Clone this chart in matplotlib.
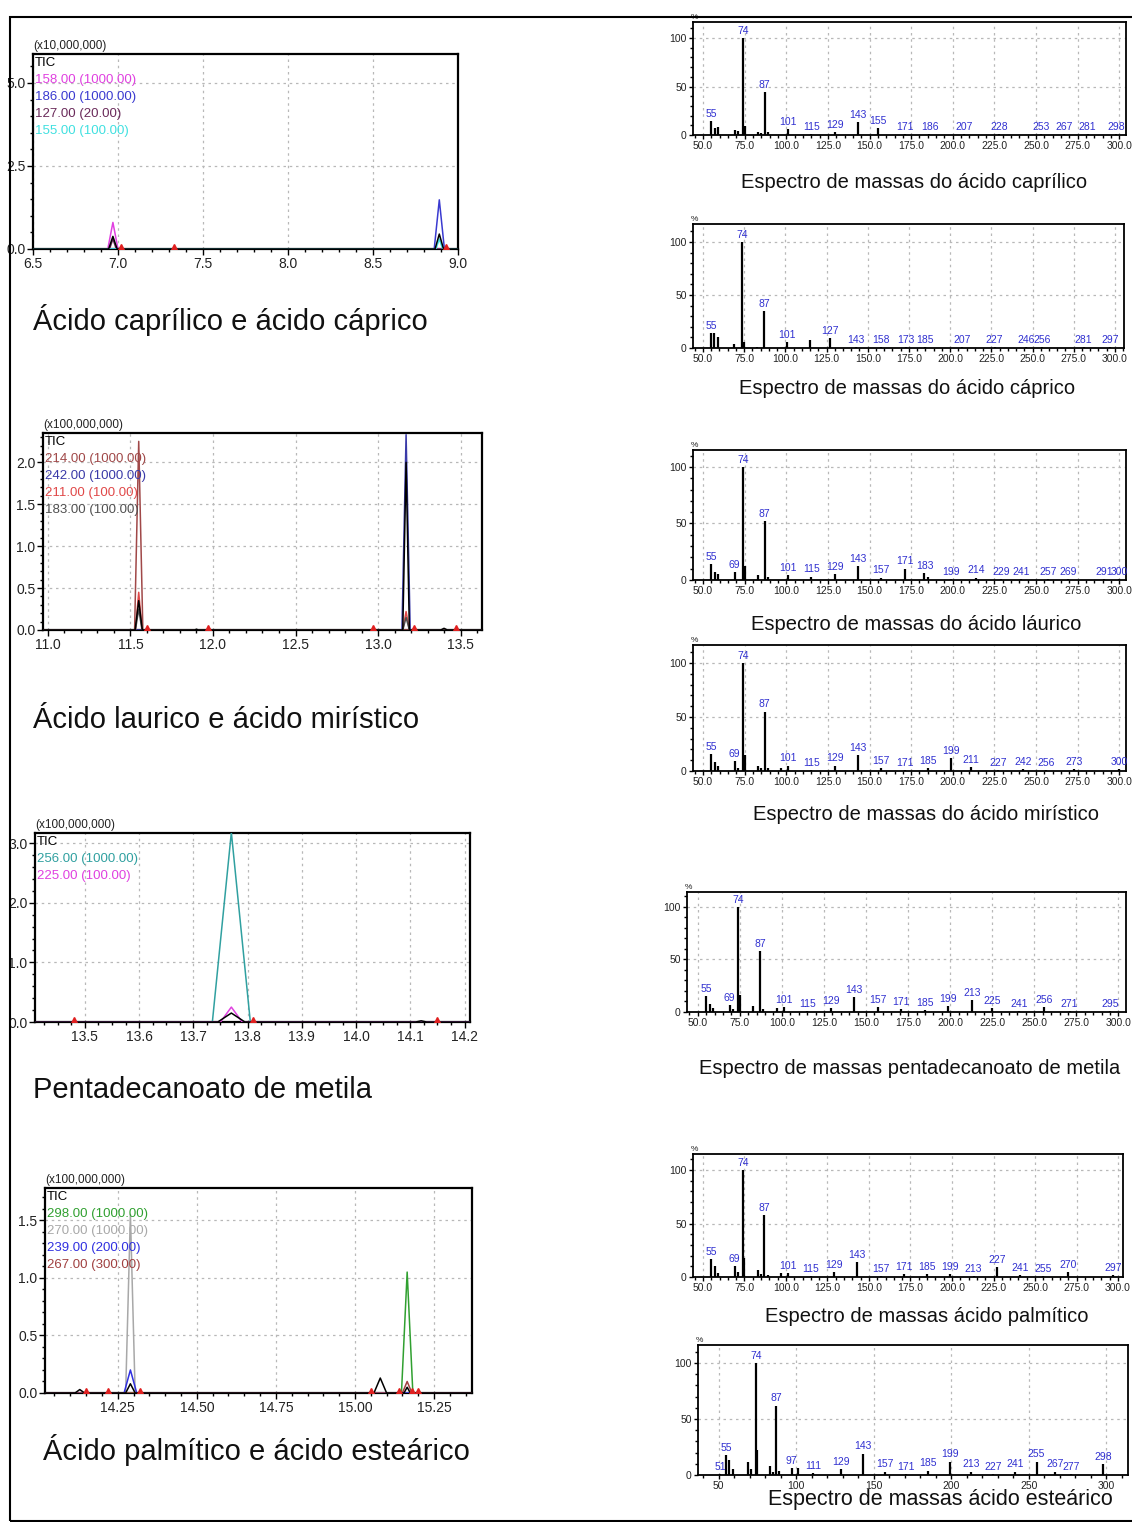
import matplotlib
matplotlib.use("Agg")
import matplotlib.pyplot as plt
from matplotlib.patches import Rectangle
from matplotlib.ticker import MultipleLocator, FormatStrFormatter

W, H = 1132, 1522
SANS = ['Liberation Sans', 'DejaVu Sans']
NARROW = ['Liberation Sans Narrow', 'Liberation Sans', 'DejaVu Sans']
plt.rcParams['font.family'] = SANS

# ---------------- chromatogram data ----------------
c1_ions = ['TIC', '158.00 (1000.00)', '186.00 (1000.00)', '127.00 (20.00)', '155.00 (100.00)']
c1_colors = ['black', '#e040e0', '#3a3ad0', '#6a2a5a', '#40e0e0']
c1_peak_ion = [1, 3, 0, 2, 4, 0]
c1_peak_rt = [6.97, 6.97, 6.97, 8.89, 8.89, 8.89]
c1_peak_h = [0.80, 0.30, 0.38, 1.48, 0.30, 0.45]
c1_peak_w = [0.03, 0.02, 0.025, 0.03, 0.02, 0.025]
c1_marks = [7.02, 7.33, 8.93]

c2_ions = ['TIC', '214.00 (1000.00)', '242.00 (1000.00)', '211.00 (100.00)', '183.00 (100.00)']
c2_colors = ['black', '#a04848', '#3a3aa8', '#e04848', '#505050']
c2_peak_ion = [1, 3, 4, 0, 2, 3, 4, 0, 0, 0]
c2_peak_rt = [11.55, 11.55, 11.55, 11.55, 13.17, 13.17, 13.17, 13.17, 13.40, 11.90]
c2_peak_h = [2.25, 0.45, 0.25, 0.35, 2.33, 0.22, 0.15, 2.00, 0.02, 0.01]
c2_peak_w = [0.025, 0.02, 0.02, 0.022, 0.025, 0.02, 0.02, 0.02, 0.02, 0.01]
c2_marks = [11.60, 11.97, 12.97, 13.22, 13.47]

c3_ions = ['TIC', '256.00 (1000.00)', '225.00 (100.00)']
c3_colors = ['black', '#30a0a0', '#e040e0']
c3_peak_ion = [1, 2, 0, 0]
c3_peak_rt = [13.77, 13.77, 13.77, 14.12]
c3_peak_h = [3.18, 0.25, 0.15, 0.02]
c3_peak_w = [0.035, 0.02, 0.025, 0.01]
c3_marks = [13.48, 13.81, 14.15]

c4_ions = ['TIC', '298.00 (1000.00)', '270.00 (1000.00)', '239.00 (200.00)', '267.00 (300.00)']
c4_colors = ['black', '#30a030', '#a8a8a8', '#3030e0', '#a04040']
c4_peak_ion = [1, 2, 3, 4, 0, 0, 0, 0]
c4_peak_rt = [15.165, 14.29, 14.29, 15.165, 14.13, 14.29, 15.08, 15.165]
c4_peak_h = [1.05, 1.55, 0.20, 0.10, 0.03, 0.08, 0.13, 0.05]
c4_peak_w = [0.018, 0.015, 0.02, 0.015, 0.015, 0.015, 0.02, 0.01]
c4_marks = [14.15, 14.22, 14.32, 15.05, 15.14, 15.18, 15.20]

chrom_titles = ['Ácido caprílico e ácido cáprico', 'Ácido laurico e ácido mirístico',
                'Pentadecanoato de metila', 'Ácido palmítico e ácido esteárico']

# ---------------- mass spectra data ----------------
ms1_mz = [55, 57, 59, 69, 71, 74, 75, 83, 85, 87, 89, 101, 115, 129, 143, 155, 171, 186, 207, 228, 253, 267, 281, 298]
ms1_int = [14, 7, 8, 5, 4, 100, 9, 3, 2, 44, 3, 6, 1, 3, 13, 7, 1, 1, 1, 1, 1, 1, 1, 1]
ms1_lab = [55, 74, 87, 101, 115, 129, 143, 155, 171, 186, 207, 228, 253, 267, 281, 298]

ms2_mz = [55, 57, 59, 69, 74, 75, 83, 87, 101, 115, 127, 143, 158, 173, 185, 207, 227, 246, 256, 281, 297]
ms2_int = [14, 14, 10, 4, 100, 6, 1, 35, 6, 8, 9, 1, 1, 1, 1, 1, 1, 1, 1, 1, 1]
ms2_lab = [55, 74, 87, 101, 127, 143, 158, 173, 185, 207, 227, 246, 256, 281, 297]

ms3_mz = [55, 57, 59, 69, 74, 75, 83, 87, 89, 101, 115, 129, 143, 157, 171, 183, 185, 199, 214, 229, 241, 257, 269, 291, 300]
ms3_int = [14, 7, 5, 7, 100, 12, 4, 52, 3, 4, 3, 5, 12, 2, 10, 6, 3, 1, 2, 1, 1, 1, 1, 1, 1]
ms3_lab = [55, 69, 74, 87, 101, 115, 129, 143, 157, 171, 183, 199, 214, 229, 241, 257, 269, 291, 300]

ms4_mz = [55, 57, 59, 69, 71, 74, 75, 83, 85, 87, 89, 97, 101, 115, 129, 143, 157, 171, 185, 199, 211, 227, 242, 256, 273, 300]
ms4_int = [16, 8, 5, 9, 3, 100, 15, 5, 3, 55, 3, 3, 5, 1, 5, 15, 3, 1, 3, 12, 4, 1, 2, 1, 2, 2]
ms4_lab = [55, 69, 74, 87, 101, 115, 129, 143, 157, 171, 185, 199, 211, 227, 242, 256, 273, 300]

ms5_mz = [55, 57, 59, 69, 71, 74, 75, 83, 87, 89, 97, 101, 115, 129, 143, 157, 171, 185, 199, 213, 225, 241, 256, 271, 295]
ms5_int = [15, 8, 4, 7, 3, 100, 16, 6, 58, 3, 4, 5, 1, 4, 14, 5, 3, 2, 6, 11, 4, 1, 5, 1, 1]
ms5_lab = [55, 69, 74, 87, 101, 115, 129, 143, 157, 171, 185, 199, 213, 225, 241, 256, 271, 295]

ms6_mz = [55, 57, 59, 69, 71, 74, 75, 83, 85, 87, 89, 97, 101, 115, 129, 143, 157, 171, 185, 199, 213, 227, 241, 255, 270, 297]
ms6_int = [17, 10, 4, 10, 5, 100, 18, 7, 3, 58, 2, 4, 4, 1, 5, 14, 1, 3, 3, 3, 1, 9, 2, 1, 5, 2]
ms6_lab = [55, 69, 74, 87, 101, 115, 129, 143, 157, 171, 185, 199, 213, 227, 241, 255, 270, 297]

ms7_mz = [51, 55, 57, 59, 69, 71, 74, 75, 83, 85, 87, 89, 97, 101, 111, 129, 143, 157, 171, 185, 199, 213, 227, 241, 255, 267, 277, 298]
ms7_int = [1, 18, 13, 5, 12, 5, 100, 22, 8, 3, 62, 4, 6, 6, 2, 5, 19, 3, 1, 4, 12, 3, 1, 3, 12, 3, 1, 10]
ms7_lab = [51, 55, 74, 87, 97, 111, 129, 143, 157, 171, 185, 199, 213, 227, 241, 255, 267, 277, 298]

ms_captions = ['Espectro de massas do ácido caprílico', 'Espectro de massas do ácido cáprico',
               'Espectro de massas do ácido láurico', 'Espectro de massas do ácido mirístico',
               'Espectro de massas pentadecanoato de metila', 'Espectro de massas ácido palmítico',
               'Espectro de massas ácido esteárico']

fig = plt.figure(figsize=(W / 100, H / 100), dpi=100)


def box(x0, y0, x1, y1):
    # pixel box (top-left origin) -> axes
    return fig.add_axes([x0 / W, 1 - y1 / H, (x1 - x0) / W, (y1 - y0) / H])


def ftext(x, y, s, **kw):
    fig.text(x / W, 1 - y / H, s, **kw)


def style(ax, lw):
    for sp in ax.spines.values():
        sp.set_linewidth(lw)
        sp.set_color('black')
    ax.set_axisbelow(True)
    ax.grid(True, which='major', ls=(0, (2, 3)), color='#b8b8b8', lw=0.9)
    ax.tick_params(which='both', direction='out', color='black', pad=1.5)
    ax.tick_params(which='major', length=4, width=1)
    ax.tick_params(which='minor', length=2.5, width=1)


def chrom(pos, xlim, ylim, xstep, xminor, xfmt, ystep, yminor, scale,
          ions, colors, p_ion, p_rt, p_h, p_w, marks):
    ax = box(*pos)
    style(ax, 1.6)
    for i in list(range(1, len(ions))) + [0]:
        pts = sorted((r, h, w) for k, r, h, w in zip(p_ion, p_rt, p_h, p_w) if k == i)
        xs, ys = [xlim[0]], [0]
        for r, h, w in pts:
            xs += [r - w, r, r + w]
            ys += [0, h, 0]
        xs.append(xlim[1])
        ys.append(0)
        ax.plot(xs, ys, color=colors[i], lw=1.1, zorder=3)
    ax.plot(marks, [0.01 * ylim[1]] * len(marks), ls='none', marker='^', ms=4.5,
            color='#e02020', zorder=4)
    ax.set_xlim(xlim)
    ax.set_ylim(ylim)
    ax.xaxis.set_major_locator(MultipleLocator(xstep))
    ax.xaxis.set_minor_locator(MultipleLocator(xminor))
    ax.xaxis.set_major_formatter(FormatStrFormatter(xfmt))
    ax.yaxis.set_major_locator(MultipleLocator(ystep))
    ax.yaxis.set_minor_locator(MultipleLocator(yminor))
    ax.yaxis.set_major_formatter(FormatStrFormatter('%.1f'))
    for lab in ax.get_xticklabels() + ax.get_yticklabels():
        lab.set_family(NARROW)
        lab.set_fontsize(10)
        lab.set_color('#222222')
    for i, (name, c) in enumerate(zip(ions, colors)):
        ax.annotate(name, xy=(0, 1), xycoords='axes fraction', xytext=(2, -3 - 17 * i),
                    textcoords='offset pixels', va='top', ha='left', color=c,
                    fontsize=9.5, family=NARROW)
    ax.annotate(scale, xy=(0, 1), xycoords='axes fraction', xytext=(0, 2),
                textcoords='offset pixels', va='bottom', ha='left', color='#222222',
                fontsize=8.5, family=NARROW)
    return ax


def spectrum(pos, xlim, ymax, mz, inten, labels, xstep=25, xminor=5, xfmt='%.1f'):
    ax = box(*pos)
    style(ax, 1.3)
    ax.vlines(mz, 0, inten, color='black', lw=1.6, zorder=3)
    for m in labels:
        v = inten[mz.index(m)]
        ax.text(m, v + 2, str(m), color='#3030d0', fontsize=7.5, family=NARROW,
                ha='center', va='bottom', zorder=4)
    ax.set_xlim(xlim)
    ax.set_ylim(0, ymax)
    ax.xaxis.set_major_locator(MultipleLocator(xstep))
    ax.xaxis.set_minor_locator(MultipleLocator(xminor))
    ax.xaxis.set_major_formatter(FormatStrFormatter(xfmt))
    ax.yaxis.set_major_locator(MultipleLocator(50))
    ax.yaxis.set_minor_locator(MultipleLocator(10))
    ax.tick_params(which='major', length=3)
    ax.tick_params(which='minor', length=2)
    for lab in ax.get_xticklabels() + ax.get_yticklabels():
        lab.set_family(NARROW)
        lab.set_fontsize(7.5)
        lab.set_color('#222222')
    ax.annotate('%', xy=(0, 1), xycoords='axes fraction', xytext=(-2, 1),
                textcoords='offset pixels', va='bottom', ha='left', color='#222222',
                fontsize=6, family=NARROW)
    return ax


# chromatograms (left column)
chrom((33, 54, 458, 249), (6.5, 9.0), (0, 5.87), 0.5, 0.1, '%.1f', 2.5, 0.5, '(x10,000,000)',
      c1_ions, c1_colors, c1_peak_ion, c1_peak_rt, c1_peak_h, c1_peak_w, c1_marks)
chrom((43, 433, 482, 630), (10.97, 13.63), (0, 2.35), 0.5, 0.1, '%.1f', 0.5, 0.1, '(x100,000,000)',
      c2_ions, c2_colors, c2_peak_ion, c2_peak_rt, c2_peak_h, c2_peak_w, c2_marks)
chrom((35, 833, 470, 1022), (13.408, 14.21), (0, 3.17), 0.1, 0.025, '%.1f', 1.0, 0.2, '(x100,000,000)',
      c3_ions, c3_colors, c3_peak_ion, c3_peak_rt, c3_peak_h, c3_peak_w, c3_marks)
chrom((45, 1188, 472, 1393), (14.02, 15.37), (0, 1.78), 0.25, 0.05, '%.2f', 0.5, 0.1, '(x100,000,000)',
      c4_ions, c4_colors, c4_peak_ion, c4_peak_rt, c4_peak_h, c4_peak_w, c4_marks)

for (x, y), t in zip([(33, 320), (33, 720), (33, 1090), (43, 1450)], chrom_titles):
    ftext(x, y, t, fontsize=21, ha='left', va='center', color='#111111')

# mass spectra (right column)
spectrum((693, 22, 1126, 135), (44, 304), 116.5, ms1_mz, ms1_int, ms1_lab)
spectrum((693, 224, 1124, 348), (44, 305.5), 117, ms2_mz, ms2_int, ms2_lab)
spectrum((693, 450, 1126, 580), (44, 304), 115, ms3_mz, ms3_int, ms3_lab)
spectrum((693, 645, 1126, 771), (44, 304), 116.7, ms4_mz, ms4_int, ms4_lab)
spectrum((687, 892, 1126, 1012), (43.6, 304.5), 114, ms5_mz, ms5_int, ms5_lab)
spectrum((693, 1154, 1123, 1277), (44, 303), 115, ms6_mz, ms6_int, ms6_lab)
spectrum((698, 1345, 1128, 1475), (36.7, 314), 116, ms7_mz, ms7_int, ms7_lab,
         xstep=50, xminor=10, xfmt='%d')

cap_pos = [(914, 183), (907, 388), (916, 625), (926, 815), (910, 1068), (927, 1316), (940, 1500)]
cap_size = [14.5, 14.5, 14.5, 14.5, 14.5, 14.5, 15.5]
for (x, y), t, s in zip(cap_pos, ms_captions, cap_size):
    ftext(x, y, t, fontsize=s, ha='center', va='center', color='#111111')

# outer frame
fig.add_artist(Rectangle((10 / W, 1 / H), (1140 - 10) / W, (1521 - 17) / H,
                         transform=fig.transFigure, fill=False, lw=1.5, color='black'))

fig.savefig('out.png', dpi=100)
